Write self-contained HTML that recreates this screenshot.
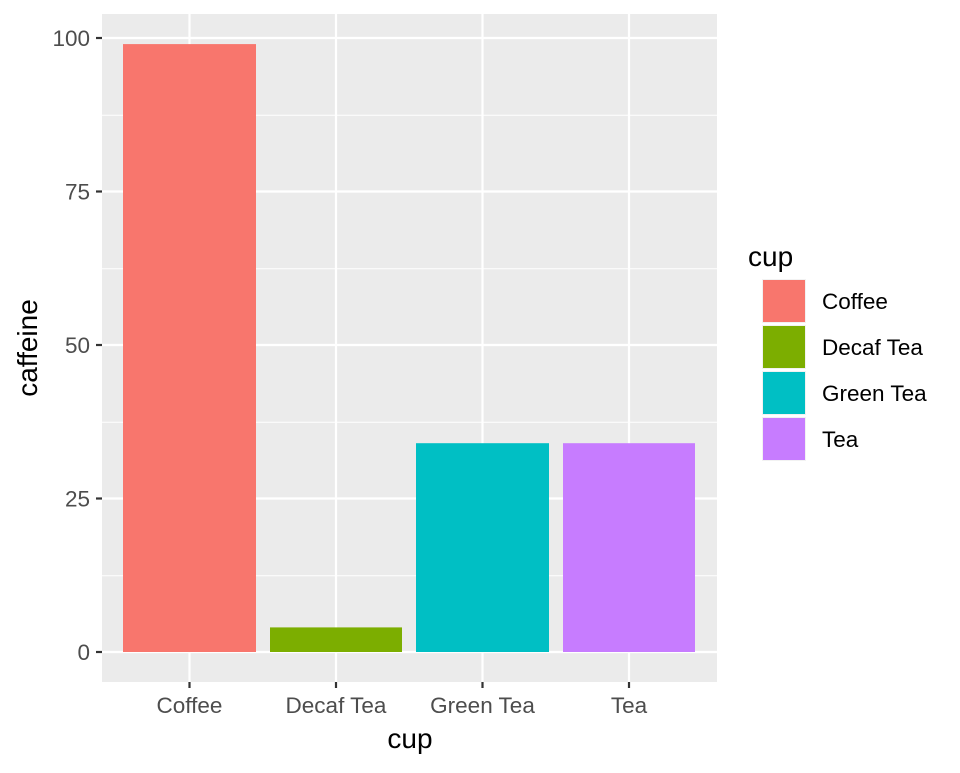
<!DOCTYPE html>
<html><head><style>body{margin:0;background:#fff}</style></head><body>
<svg width="960" height="768" xmlns="http://www.w3.org/2000/svg" font-family="Liberation Sans, sans-serif">
<rect x="0" y="0" width="960" height="768" fill="#fff"/>
<rect x="102" y="14" width="615" height="668" fill="#EBEBEB"/>
<g stroke="#fff" stroke-width="1.1">
<line x1="102" x2="717" y1="575.75" y2="575.75"/>
<line x1="102" x2="717" y1="422.25" y2="422.25"/>
<line x1="102" x2="717" y1="268.75" y2="268.75"/>
<line x1="102" x2="717" y1="115.25" y2="115.25"/>
</g>
<g stroke="#fff" stroke-width="2.2">
<line x1="102" x2="717" y1="652" y2="652"/>
<line x1="102" x2="717" y1="498.5" y2="498.5"/>
<line x1="102" x2="717" y1="345" y2="345"/>
<line x1="102" x2="717" y1="191.5" y2="191.5"/>
<line x1="102" x2="717" y1="38" y2="38"/>
<line x1="189.5" x2="189.5" y1="14" y2="682"/>
<line x1="336" x2="336" y1="14" y2="682"/>
<line x1="482.5" x2="482.5" y1="14" y2="682"/>
<line x1="629" x2="629" y1="14" y2="682"/>
</g>
<rect x="123" y="44.1" width="133" height="607.9" fill="#F8766D"/>
<rect x="270" y="627.4" width="132" height="24.6" fill="#7CAE00"/>
<rect x="416" y="443.2" width="133" height="208.8" fill="#00BFC4"/>
<rect x="563" y="443.2" width="132" height="208.8" fill="#C77CFF"/>
<g stroke="#333" stroke-width="2.2">
<line x1="96" x2="102" y1="652" y2="652"/>
<line x1="96" x2="102" y1="498.5" y2="498.5"/>
<line x1="96" x2="102" y1="345" y2="345"/>
<line x1="96" x2="102" y1="191.5" y2="191.5"/>
<line x1="96" x2="102" y1="38" y2="38"/>
<line x1="189.5" x2="189.5" y1="682" y2="688"/>
<line x1="336" x2="336" y1="682" y2="688"/>
<line x1="482.5" x2="482.5" y1="682" y2="688"/>
<line x1="629" x2="629" y1="682" y2="688"/>
</g>
<g fill="#4D4D4D" font-size="22.5" text-anchor="end">
<text x="90" y="660">0</text>
<text x="90" y="506.5">25</text>
<text x="90" y="353">50</text>
<text x="90" y="199.5">75</text>
<text x="90" y="46">100</text>
</g>
<g fill="#4D4D4D" font-size="22.5" text-anchor="middle">
<text x="189.5" y="713">Coffee</text>
<text x="336" y="713">Decaf Tea</text>
<text x="482.5" y="713">Green Tea</text>
<text x="629" y="713">Tea</text>
</g>
<text x="410" y="748" font-size="28" text-anchor="middle">cup</text>
<text x="37" y="348" font-size="28" text-anchor="middle" transform="rotate(-90 37 348)">caffeine</text>
<text x="748" y="266" font-size="28">cup</text>
<rect x="762" y="279" width="44" height="44" fill="#F2F2F2"/>
<rect x="763" y="280" width="42" height="42" fill="#F8766D"/>
<rect x="762" y="325" width="44" height="44" fill="#F2F2F2"/>
<rect x="763" y="326" width="42" height="42" fill="#7CAE00"/>
<rect x="762" y="371" width="44" height="44" fill="#F2F2F2"/>
<rect x="763" y="372" width="42" height="42" fill="#00BFC4"/>
<rect x="762" y="417" width="44" height="44" fill="#F2F2F2"/>
<rect x="763" y="418" width="42" height="42" fill="#C77CFF"/>
<g font-size="22.5" fill="#000">
<text x="822" y="309">Coffee</text>
<text x="822" y="355">Decaf Tea</text>
<text x="822" y="401">Green Tea</text>
<text x="822" y="447">Tea</text>
</g>
</svg>
</body></html>
